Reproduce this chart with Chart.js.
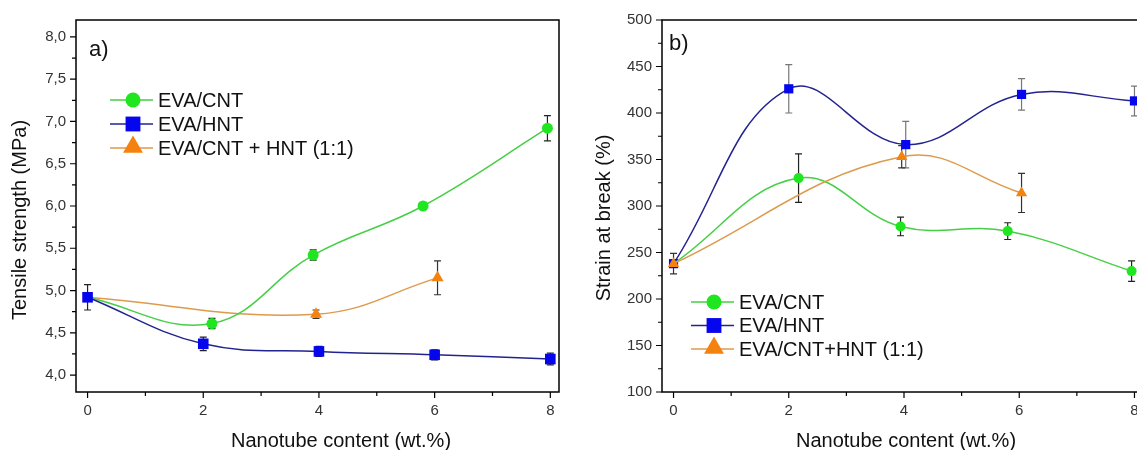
<!DOCTYPE html>
<html>
<head>
<meta charset="utf-8">
<title>EVA nanocomposites – tensile properties</title>
<script src="https://cdn.jsdelivr.net/npm/chart.js@4.4.1/dist/chart.umd.min.js"></script>
<style>
  html, body { margin: 0; padding: 0; background: #fff; overflow: hidden; }
  #wrap { position: relative; width: 1137px; height: 450px; overflow: hidden; }
  #chart-a { position: absolute; left: 0; top: 0; }
  #chart-b { position: absolute; left: 570px; top: 0; }
</style>
</head>
<body>
<div id="wrap">
  <canvas id="chart-a" width="570" height="450"></canvas>
  <canvas id="chart-b" width="590" height="450"></canvas>
</div>
<script>
// Series names (legend text differs slightly between panels)
const namesA = ['EVA/CNT', 'EVA/HNT', 'EVA/CNT + HNT (1:1)'];
const namesB = ['EVA/CNT', 'EVA/HNT', 'EVA/CNT+HNT (1:1)'];

// Panel a) tensile strength, MPa
const cntLoadA = [0, 2.15, 3.9, 5.8, 7.95];
const cntStrength = [4.92, 4.61, 5.42, 6.00, 6.92];
const cntStrengthErr = [0, 0.06, 0.06, 0.04, 0.15];
const hntLoadA = [0, 2, 4, 6, 8];
const hntStrength = [4.92, 4.37, 4.28, 4.24, 4.19];
const hntStrengthErr = [0.15, 0.08, 0.06, 0.06, 0.07];
const mixLoadA = [0, 3.95, 6.05];
const mixStrength = [4.92, 4.72, 5.15];
const mixStrengthErr = [0, 0.05, 0.2];

// Panel b) strain at break, %
const cntLoadB = [0, 2.17, 3.94, 5.8, 7.95];
const cntStrain = [238, 330, 278, 273, 230];
const cntStrainErr = [0, 26, 10, 9, 11];
const hntLoadB = [0, 2, 4.03, 6.04, 8];
const hntStrain = [238, 426, 366, 420, 413];
const hntStrainErr = [0, 26, 25, 17, 16];
const mixLoadB = [0, 3.96, 6.04];
const mixStrain = [238, 353, 314];
const mixStrainErr = [11, 12, 21];

// Axis ticks
const loadTicks = [0, 1, 2, 3, 4, 5, 6, 7, 8];
const strengthTicks = [4.0, 4.5, 5.0, 5.5, 6.0, 6.5, 7.0, 7.5, 8.0];
const strainTicks = [100, 150, 200, 250, 300, 350, 400, 450, 500];

const xTitle = 'Nanotube content (wt.%)';
const FONT = '"Liberation Sans", Arial, sans-serif';
const colors = {
    cnt: { line: '#46cf46', mark: '#1fe61f' },
    hnt: { line: '#23238f', mark: '#0505ee' },
    mix: { line: '#de9a4c', mark: '#f5820f' }
};

function points(xs, ys) {
    return xs.map((x, i) => ({ x: x, y: ys[i] }));
}

// Error bars, drawn under the markers
const errorBars = {
    id: 'errorBars',
    beforeDatasetsDraw(chart) {
        const ctx = chart.ctx;
        const xs = chart.scales.x, ys = chart.scales.y;
        ctx.save();
        chart.data.datasets.forEach(ds => {
            if (!ds.errors) return;
            ctx.strokeStyle = ds.errorColor || '#333';
            ctx.lineWidth = 1.2;
            ds.data.forEach((p, i) => {
                const e = ds.errors[i];
                if (!e) return;
                const px = xs.getPixelForValue(p.x);
                const top = ys.getPixelForValue(p.y + e);
                const bot = ys.getPixelForValue(p.y - e);
                ctx.beginPath();
                ctx.moveTo(px, top); ctx.lineTo(px, bot);
                ctx.moveTo(px - 3.5, top); ctx.lineTo(px + 3.5, top);
                ctx.moveTo(px - 3.5, bot); ctx.lineTo(px + 3.5, bot);
                ctx.stroke();
            });
        });
        ctx.restore();
    }
};

// Frame round the plot, outward tick marks, axis titles, legend and panel letter
const decorations = {
    id: 'decorations',
    afterDraw(chart, args, opts) {
        const ctx = chart.ctx;
        const area = chart.chartArea;
        const xs = chart.scales.x, ys = chart.scales.y;
        ctx.save();
        ctx.strokeStyle = '#000';
        ctx.lineWidth = 1.5;
        ctx.strokeRect(area.left, area.top, area.right - area.left, area.bottom - area.top);

        ctx.lineWidth = 1.2;
        ctx.beginPath();
        loadTicks.forEach(v => {
            const px = xs.getPixelForValue(v);
            const len = v % 2 === 0 ? 6 : 4;
            ctx.moveTo(px, area.bottom); ctx.lineTo(px, area.bottom + len);
        });
        const yt = opts.yTicks;
        yt.forEach((v, i) => {
            const py = ys.getPixelForValue(v);
            ctx.moveTo(area.left, py); ctx.lineTo(area.left - 6, py);
            if (i < yt.length - 1) {
                const pm = ys.getPixelForValue((v + yt[i + 1]) / 2);
                ctx.moveTo(area.left, pm); ctx.lineTo(area.left - 4, pm);
            }
        });
        ctx.stroke();

        ctx.fillStyle = '#111';
        ctx.textBaseline = 'middle';
        ctx.textAlign = 'center';
        ctx.font = '20px ' + FONT;

        // axis titles
        ctx.fillText(xTitle, opts.xTitleX, opts.xTitleY);
        ctx.save();
        ctx.translate(opts.yTitleX, opts.yTitleY);
        ctx.rotate(-Math.PI / 2);
        ctx.fillText(opts.yTitle, 0, 0);
        ctx.restore();

        // panel letter
        ctx.font = '22px ' + FONT;
        ctx.textAlign = 'left';
        ctx.fillText(opts.letter, opts.letterX, opts.letterY);

        // legend: line through an enlarged marker, then the name
        const lg = opts.legend;
        const sizes = { circle: 7.5, rect: 10.5, triangle: 11.5 };
        chart.data.datasets.forEach((ds, i) => {
            const y = lg.y + i * lg.dy;
            ctx.strokeStyle = ds.borderColor;
            ctx.lineWidth = 1.5;
            ctx.beginPath();
            ctx.moveTo(lg.x - 23, y); ctx.lineTo(lg.x + 20, y);
            ctx.stroke();
            ctx.fillStyle = ds.pointBackgroundColor;
            ctx.strokeStyle = ds.pointBackgroundColor;
            Chart.helpers.drawPoint(ctx, {
                pointStyle: ds.pointStyle, rotation: 0,
                radius: sizes[ds.pointStyle], borderWidth: 0
            }, lg.x, ds.pointStyle === 'triangle' ? y - 1 : y);
            ctx.fillStyle = '#111';
            ctx.font = '20px ' + FONT;
            ctx.fillText(ds.label, lg.x + 25, y + 1);
        });
        ctx.restore();
    }
};

function makeDataset(label, data, errors, c, style, radius, order, errorColor) {
    return {
        label: label,
        data: data,
        errors: errors,
        errorColor: errorColor,
        borderColor: c.line,
        borderWidth: 1.5,
        pointBackgroundColor: c.mark,
        pointBorderColor: c.mark,
        pointBorderWidth: 0,
        pointStyle: style,
        pointRadius: radius,
        tension: 0.4,
        order: order
    };
}

function makeScales(xMin, xMax, yMin, yMax, yTicks, yWidth, yFormat) {
    const tickFont = { family: FONT, size: 15 };
    return {
        x: {
            type: 'linear', min: xMin, max: xMax,
            afterBuildTicks: s => { s.ticks = loadTicks.map(v => ({ value: v })); },
            afterFit: s => { s.height = 58; },
            grid: { display: false, drawTicks: true, tickLength: 6 },
            border: { display: false },
            ticks: {
                color: '#333', font: tickFont, padding: 4, autoSkip: false, maxRotation: 0,
                callback: v => (v % 2 === 0 ? String(v) : '')
            }
        },
        y: {
            type: 'linear', min: yMin, max: yMax,
            afterBuildTicks: s => { s.ticks = yTicks.map(v => ({ value: v })); },
            afterFit: s => { s.width = yWidth; },
            grid: { display: false, drawTicks: true, tickLength: 6 },
            border: { display: false },
            ticks: { color: '#333', font: tickFont, padding: 4, autoSkip: false, callback: yFormat }
        }
    };
}

const baseOptions = {
    responsive: false,
    animation: false,
    devicePixelRatio: 1,
    plugins: { legend: { display: false }, tooltip: { enabled: false } }
};

// a) Tensile strength
new Chart(document.getElementById('chart-a').getContext('2d'), {
    type: 'line',
    data: {
        datasets: [
            makeDataset(namesA[0], points(cntLoadA, cntStrength), cntStrengthErr, colors.cnt, 'circle', [0, 5.5, 5.5, 5.5, 5.5], 1, '#222'),
            makeDataset(namesA[1], points(hntLoadA, hntStrength), hntStrengthErr, colors.hnt, 'rect', 7.5, 0, '#222'),
            makeDataset(namesA[2], points(mixLoadA, mixStrength), mixStrengthErr, colors.mix, 'triangle', [0, 7, 7], 2, '#333')
        ]
    },
    options: Object.assign({}, baseOptions, {
        layout: { padding: { top: 20, right: 11, bottom: 0, left: 0 } },
        scales: makeScales(-0.2, 8.15, 3.8, 8.2, strengthTicks, 76,
            v => v.toFixed(1).replace('.', ',')),
        plugins: Object.assign({}, baseOptions.plugins, {
            decorations: {
                yTicks: strengthTicks, letter: 'a)', letterX: 89, letterY: 50,
                xTitleX: 341, xTitleY: 441,
                yTitle: 'Tensile strength (MPa)', yTitleX: 20, yTitleY: 220,
                legend: { x: 133, y: 100, dy: 24 }
            }
        })
    }),
    plugins: [errorBars, decorations]
});

// b) Strain at break
new Chart(document.getElementById('chart-b').getContext('2d'), {
    type: 'line',
    data: {
        datasets: [
            makeDataset(namesB[0], points(cntLoadB, cntStrain), cntStrainErr, colors.cnt, 'circle', [0, 5, 5, 5, 5], 1, '#222'),
            makeDataset(namesB[1], points(hntLoadB, hntStrain), hntStrainErr, colors.hnt, 'rect', 6.5, 2, '#777'),
            makeDataset(namesB[2], points(mixLoadB, mixStrain), mixStrainErr, colors.mix, 'triangle', 6.5, 0, '#333')
        ]
    },
    options: Object.assign({}, baseOptions, {
        layout: { padding: { top: 20, right: 14, bottom: 0, left: 0 } },
        scales: makeScales(-0.2, 8.2, 100, 500, strainTicks, 92, v => String(v)),
        plugins: Object.assign({}, baseOptions.plugins, {
            decorations: {
                yTicks: strainTicks, letter: 'b)', letterX: 99, letterY: 44,
                xTitleX: 336, xTitleY: 441,
                yTitle: 'Strain at break (%)', yTitleX: 34, yTitleY: 218,
                legend: { x: 144, y: 302, dy: 23.5 }
            }
        })
    }),
    plugins: [errorBars, decorations]
});
</script>
</body>
</html>
